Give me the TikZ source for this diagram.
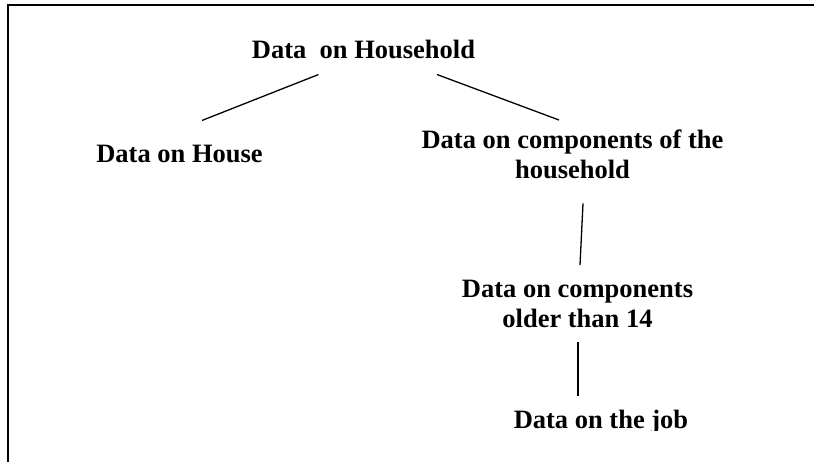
\documentclass[tikz,border=0pt]{standalone}
\usepackage{fontspec}
\setmainfont{Liberation Serif}
\usepackage{tikz}

\begin{document}
\begin{tikzpicture}[x=1pt,y=-1pt,
        lbl/.style={font=\fontsize{26.5}{30}\selectfont\bfseries, inner sep=0pt, align=center},
        link/.style={line width=1.3pt}]
            \useasboundingbox (0,0) rectangle (814,461);
            \draw[line width=2pt] (7.5,470) -- (7.5,5.2) -- (820,5.2);
            \node[lbl, anchor=base] (hh) at (363.5,58) {Data~~on Household};
            \node[lbl, anchor=base] (house) at (179.5,162) {Data on House};
            \node[lbl, anchor=north] (comp) at (572.5,130) {Data on components of the\\household};
            \node[lbl, anchor=north] (older) at (577.5,280) {Data on components\\older than 14};
            \begin{scope}
                \clip (0,0) rectangle (814,430);
                \node[lbl, anchor=base] (job) at (601,428) {Data on the job};
            \end{scope}
            \draw[link] ([xshift=-45pt,yshift=-16pt]hh.south) -- ([xshift=22.5pt,yshift=24pt]house.north);
            \draw[link] ([xshift=73.5pt,yshift=-16pt]hh.south) -- ([xshift=-13.5pt,yshift=10pt]comp.north);
            \draw[link] ([xshift=10.5pt,yshift=-24pt]comp.south) -- ([xshift=2.5pt,yshift=15pt]older.north);
            \draw[link] ([xshift=0.5pt,yshift=-14pt]older.south) -- ([xshift=-23pt,yshift=13pt]job.north);
        \end{tikzpicture}
\end{document}
